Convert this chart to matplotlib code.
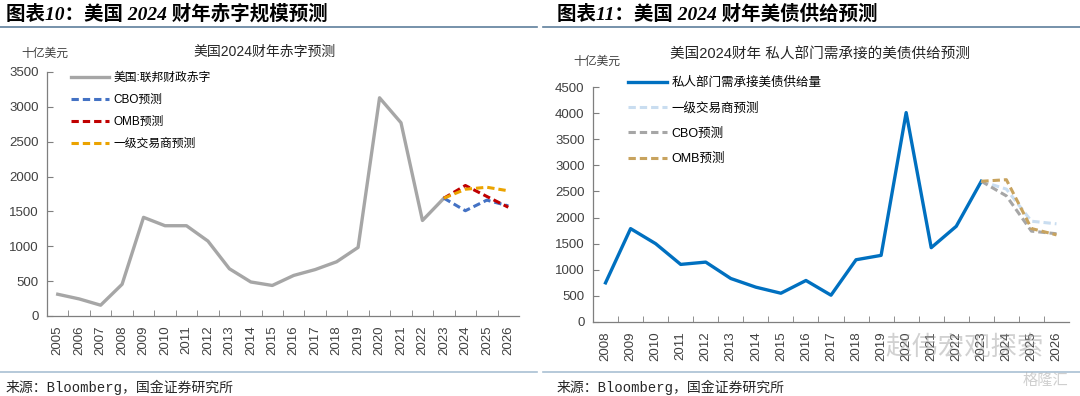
import numpy as np
import matplotlib
matplotlib.use("Agg")
import matplotlib.pyplot as plt
from matplotlib.lines import Line2D

plt.rcParams['font.family'] = ['Liberation Sans', 'Noto Sans CJK SC']
plt.rcParams['axes.unicode_minus'] = False

# left chart: US federal deficit, billion USD
years_left = [str(y) for y in range(2005, 2027)]
deficit = [312, 245, 155, 455, 1415, 1295, 1295, 1075, 678, 488, 438, 582, 666, 778, 984,
           3130, 2772, 1370, 1690, None, None, None]
cbo_left = [None] * 18 + [1690, 1510, 1662, 1580]
omb_left = [None] * 18 + [1690, 1872, 1715, 1560]
dealer_left = [None] * 18 + [1690, 1818, 1847, 1796]

# right chart: Treasury supply the private sector must absorb
years_right = [str(y) for y in range(2008, 2027)]
private_supply = [750, 1788, 1500, 1103, 1147, 833, 667, 551, 795, 513, 1192, 1276,
                  4010, 1423, 1833, 2695, None, None, None]
dealer_right = [None] * 15 + [2695, 2545, 1930, 1880]
cbo_right = [None] * 15 + [2695, 2415, 1740, 1690]
omb_right = [None] * 15 + [2695, 2725, 1790, 1668]


def to_arr(vals):
    return np.array([np.nan if v is None else v for v in vals], dtype=float)


def style_axis(ax, n, ymax):
    ax.set_xlim(-0.5, n - 0.5)
    ax.set_ylim(0, ymax)
    ax.set_yticks(np.arange(0, ymax + 1, 500))
    for side in ['top', 'right']:
        ax.spines[side].set_visible(False)
    for side in ['left', 'bottom']:
        ax.spines[side].set_color('#7f7f7f')
        ax.spines[side].set_linewidth(0.9)
    ax.tick_params(axis='y', direction='in', length=4, color='#7f7f7f',
                   labelsize=9.5, labelcolor='#404040', pad=6)
    ax.tick_params(axis='x', which='major', length=0, labelsize=9.5,
                   labelcolor='#404040', pad=7, labelrotation=90)
    ax.set_xticks(np.arange(0.5, n - 0.5), minor=True)
    ax.tick_params(axis='x', which='minor', direction='in', length=4, color='#7f7f7f')


dash = (0, (2.4, 1.3))
fig = plt.figure(figsize=(10.8, 3.96), dpi=100)

# ---- left panel ----
ax1 = fig.add_axes([47 / 1080, 1 - 316 / 396, 472 / 1080, 244 / 396])
x1 = np.arange(len(years_left))
ax1.plot(x1, to_arr(deficit), color='#a6a6a6', lw=2.4, label='美国:联邦财政赤字')
ax1.plot(x1, to_arr(cbo_left), color='#4472c4', lw=2.2, ls=dash, label='CBO预测')
ax1.plot(x1, to_arr(omb_left), color='#c00000', lw=2.2, ls=dash, label='OMB预测')
ax1.plot(x1, to_arr(dealer_left), color='#eba300', lw=2.2, ls=dash, label='一级交易商预测')
ax1.set_xticks(x1)
ax1.set_xticklabels(years_left)
style_axis(ax1, len(years_left), 3500)
ax1.legend(loc='upper left', bbox_to_anchor=(71 / 1080, 1 - 72 / 396),
           bbox_transform=fig.transFigure, frameon=False, fontsize=8.5,
           handlelength=3.2, handletextpad=0.4, labelspacing=0.85,
           borderpad=0, borderaxespad=0)

# ---- right panel ----
ax2 = fig.add_axes([593 / 1080, 1 - 322 / 396, 476 / 1080, 235 / 396])
x2 = np.arange(len(years_right))
ax2.plot(x2, to_arr(private_supply), color='#0070c0', lw=2.4, label='私人部门需承接美债供给量')
ax2.plot(x2, to_arr(dealer_right), color='#c9ddf0', lw=2.2, ls=dash, label='一级交易商预测')
ax2.plot(x2, to_arr(cbo_right), color='#a6a6a6', lw=2.2, ls=dash, label='CBO预测')
ax2.plot(x2, to_arr(omb_right), color='#c8a35e', lw=2.2, ls=dash, label='OMB预测')
ax2.set_xticks(x2)
ax2.set_xticklabels(years_right)
style_axis(ax2, len(years_right), 4500)
ax2.legend(loc='upper left', bbox_to_anchor=(628 / 1080, 1 - 77 / 396),
           bbox_transform=fig.transFigure, frameon=False, fontsize=9,
           handlelength=3.1, handletextpad=0.4, labelspacing=1.05,
           borderpad=0, borderaxespad=0)

# ---- titles, units, headers, sources ----
fig.text(265 / 1080, 1 - 52 / 396, '美国2024财年赤字预测', ha='center', va='center',
         fontsize=10, color='#262626')
fig.text(820 / 1080, 1 - 55 / 396, '美国2024财年 私人部门需承接的美债供给预测',
         ha='center', va='center', fontsize=10.5, color='#262626')
fig.text(21 / 1080, 1 - 54 / 396, '十亿美元', ha='left', va='center', fontsize=8.5,
         color='#404040')
fig.text(573 / 1080, 1 - 62 / 396, '十亿美元', ha='left', va='center', fontsize=8.5,
         color='#404040')

header_font = ['Liberation Serif', 'Noto Sans CJK SC']
fig.text(6 / 1080, 1 - 14 / 396, '图表10：美国 2024 财年赤字规模预测', ha='left', va='center',
         fontsize=14, fontweight='bold', fontstyle='italic', family=header_font, color='#000000')
fig.text(557 / 1080, 1 - 14 / 396, '图表11：美国 2024 财年美债供给预测', ha='left', va='center',
         fontsize=14, fontweight='bold', fontstyle='italic', family=header_font, color='#000000')

fig.add_artist(Line2D([0, 537 / 1080], [1 - 27 / 396] * 2, color='#5f7f9c', lw=1.2))
fig.add_artist(Line2D([543 / 1080, 1], [1 - 27 / 396] * 2, color='#5f7f9c', lw=1.2))
fig.add_artist(Line2D([0, 537 / 1080], [1 - 372 / 396] * 2, color='#a9c0d3', lw=1.2))
fig.add_artist(Line2D([543 / 1080, 1], [1 - 372 / 396] * 2, color='#a9c0d3', lw=1.2))

src_font = ['Liberation Mono', 'Noto Sans CJK SC']
fig.text(6 / 1080, 1 - 387 / 396, '来源：Bloomberg，国金证券研究所', ha='left', va='center',
         fontsize=10, family=src_font, color='#262626')
fig.text(557 / 1080, 1 - 387 / 396, '来源：Bloomberg，国金证券研究所', ha='left', va='center',
         fontsize=10, family=src_font, color='#262626')

# watermarks (drawn over the tick labels, as in the source image)
fig.text(965 / 1080, 1 - 347 / 396, '赵伟宏观探索', ha='center', va='center', fontsize=19,
         family=['Noto Sans CJK SC'], color='#9a9a9a', alpha=0.45)
fig.text(1045 / 1080, 1 - 380 / 396, '格隆汇', ha='center', va='center', fontsize=11,
         family=['Noto Sans CJK SC'], color='#b0b0b0', alpha=0.6)

fig.savefig('out.png', dpi=100)
